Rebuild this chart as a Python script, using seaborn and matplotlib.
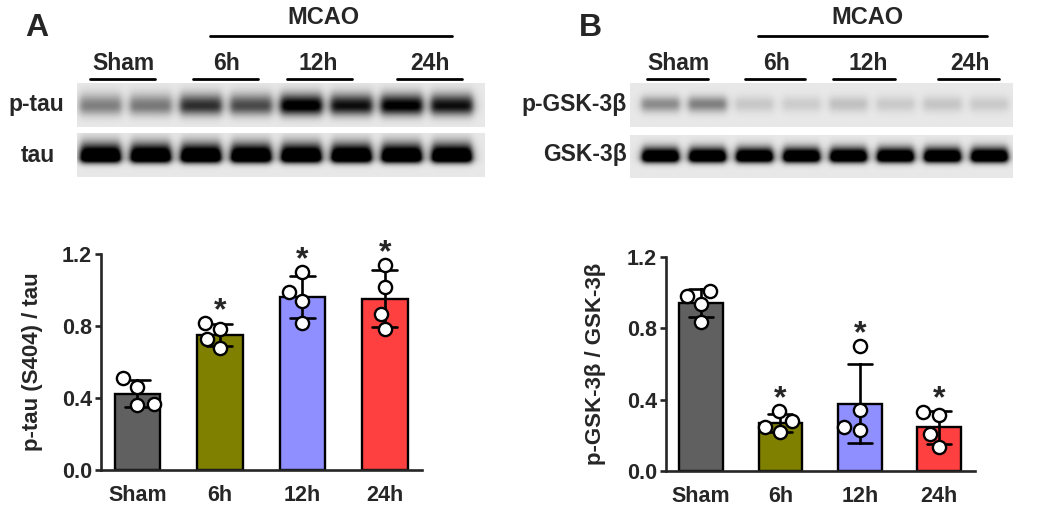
import numpy as np
import pandas as pd
import matplotlib
matplotlib.use('Agg')
import matplotlib.pyplot as plt
from matplotlib.lines import Line2D
import seaborn as sns

# Data
groups = ['Sham', '6h', '12h', '24h']
colors = ['#606060', '#808000', '#8F8FFF', '#FF4040']

# panel A: p-tau (S404) / tau, one value per animal
ptau_sham = [0.463, 0.509, 0.361, 0.367]
ptau_6h = [0.781, 0.815, 0.676, 0.726]
ptau_12h = [1.102, 0.987, 0.939, 0.815]
ptau_24h = [1.139, 1.019, 0.867, 0.783]

# panel B: p-GSK-3b / GSK-3b
pgsk_sham = [0.983, 1.011, 0.938, 0.833]
pgsk_6h = [0.281, 0.336, 0.220, 0.248]
pgsk_12h = [0.700, 0.341, 0.229, 0.244]
pgsk_24h = [0.313, 0.332, 0.206, 0.135]

# blot band darkness per lane (2 lanes per group)
ptau_band = [0.45, 0.48, 0.80, 0.68, 1.10, 0.95, 1.05, 0.95]
tau_band = [1.5, 1.5, 1.5, 1.5, 1.5, 1.5, 1.5, 1.5]
pgsk_band = [0.40, 0.45, 0.14, 0.12, 0.17, 0.13, 0.15, 0.13]
gsk_band = [1.5, 1.5, 1.5, 1.5, 1.5, 1.5, 1.5, 1.5]

yticks = [0.0, 0.4, 0.8, 1.2]
ytick_labels = ['0.0', '0.4', '0.8', '1.2']

sns.set_style('ticks')
plt.rcParams['font.family'] = ['Liberation Sans', 'DejaVu Sans']
plt.rcParams['font.weight'] = 'bold'

W, H = 1050, 514
fig = plt.figure(figsize=(10.5, 5.14), dpi=100)


def fx(px):
    return px / W


def fy(py):
    return 1 - py / H


def add_ax(x0, y0, x1, y1):
    # pixel box -> figure axes
    return fig.add_axes([fx(x0), fy(y1), fx(x1) - fx(x0), (y1 - y0) / H])


def blot(box, bands, xlim, yc, s_up, s_dn, bw):
    ax = add_ax(*box)
    nx, ny = 400, 60
    xs = np.linspace(xlim[0], xlim[1], nx)
    ys = np.linspace(0, 1, ny)
    X, Y = np.meshgrid(xs, ys)
    sig = np.where(Y < yc, s_up, s_dn)
    vert = np.exp(-0.5 * ((Y - yc) / sig) ** 2)
    dark = np.zeros_like(X)
    for i, v in enumerate(bands):
        horiz = 1 / (1 + ((X - i) / (bw / 2)) ** 10)
        dark = dark + v * horiz * vert
    img = 0.91 * (1 - np.clip(dark, 0, 1))
    ax.imshow(img, cmap='gray', vmin=0, vmax=1, aspect='auto',
              extent=(xlim[0], xlim[1], 1, 0), interpolation='bilinear')
    ax.axis('off')
    return ax


def bar_panel(box, vals, ylabel, label_x):
    ax = add_ax(*box)
    df = pd.DataFrame({
        'group': np.repeat(groups, 4),
        'value': np.concatenate(vals),
    })
    sns.barplot(data=df, x='group', y='value', hue='group', palette=colors,
                order=groups, errorbar='sd', capsize=0.3, width=0.55,
                saturation=1, edgecolor='black', linewidth=1.7, legend=False,
                ax=ax, err_kws={'linewidth': 1.9, 'color': 'black'})
    sns.swarmplot(data=df, x='group', y='value', order=groups, color='white',
                  edgecolor='black', linewidth=1.7, size=9.5, ax=ax, zorder=5)
    ax.set_ylim(0, 1.2)
    ax.set_xlim(-0.44, 3.45)
    ax.set_yticks(yticks)
    ax.set_yticklabels(ytick_labels)
    ax.tick_params(axis='y', length=4.5, width=1.9, pad=2, labelsize=15.5)
    ax.tick_params(axis='x', length=0, pad=11, labelsize=15.5)
    for t in ax.get_xticklabels() + ax.get_yticklabels():
        t.set_fontweight('bold')
    ax.set_xlabel('')
    ax.set_ylabel(ylabel, fontsize=16, fontweight='bold')
    ax.yaxis.set_label_coords(label_x, 0.5)
    sns.despine(ax=ax)
    for s in ['left', 'bottom']:
        ax.spines[s].set_linewidth(1.9)
    # significance stars vs Sham
    for i in range(1, 4):
        v = np.array(vals[i])
        top = max(v.max(), v.mean() + v.std(ddof=1))
        ax.text(i, top + 0.02, '*', ha='center', va='baseline', fontsize=23,
                fontweight='bold', clip_on=False)
    return ax


def header(lane_groups, mcao, letter):
    for name, cx, x0, x1 in lane_groups:
        fig.text(fx(cx), fy(63), name, ha='center', va='center', fontsize=16.5,
                 fontweight='bold')
        fig.add_artist(Line2D([fx(x0), fx(x1)], [fy(79), fy(79)], color='black',
                              linewidth=2.0))
    cx, x0, x1 = mcao
    fig.text(fx(cx), fy(18), 'MCAO', ha='center', va='center', fontsize=17,
             fontweight='bold')
    fig.add_artist(Line2D([fx(x0), fx(x1)], [fy(36), fy(36)], color='black',
                          linewidth=2.0))
    fig.text(fx(letter[0]), fy(28), letter[1], ha='center', va='center',
             fontsize=23, fontweight='bold')


# Panel A blots
blot((77, 83, 485, 127), ptau_band, (-0.46, 7.65), 0.52, 0.19, 0.15, 0.84)
blot((77, 133, 485, 177), tau_band, (-0.46, 7.65), 0.56, 0.22, 0.09, 0.8)
fig.text(fx(36), fy(105), 'p-tau', ha='center', va='center', fontsize=16.5)
fig.text(fx(38), fy(155), 'tau', ha='center', va='center', fontsize=16.5)
header([('Sham', 123, 90, 155), ('6h', 227, 193, 258),
        ('12h', 318, 287, 352), ('24h', 430, 397, 462)],
       (323, 210, 452), (37, 'A'))

# Panel B blots
blot((630, 83, 1013, 127), pgsk_band, (-0.64, 7.49), 0.48, 0.13, 0.13, 0.82)
blot((630, 135, 1013, 178), gsk_band, (-0.64, 7.49), 0.52, 0.16, 0.09, 0.78)
fig.text(fx(627), fy(105), 'p-GSK-3β', ha='right', va='center', fontsize=16.5)
fig.text(fx(627), fy(155), 'GSK-3β', ha='right', va='center', fontsize=16.5)
header([('Sham', 678, 647, 708), ('6h', 777, 745, 805),
        ('12h', 868, 833, 895), ('24h', 970, 938, 999)],
       (867, 758, 987), (590, 'B'))

# Bar charts
bar_panel((101, 254, 422, 470), [ptau_sham, ptau_6h, ptau_12h, ptau_24h],
          'p-tau (S404) / tau', -0.181)
bar_panel((666, 257, 975, 471), [pgsk_sham, pgsk_6h, pgsk_12h, pgsk_24h],
          'p-GSK-3β / GSK-3β', -0.193)

fig.savefig('out.png', dpi=100)
